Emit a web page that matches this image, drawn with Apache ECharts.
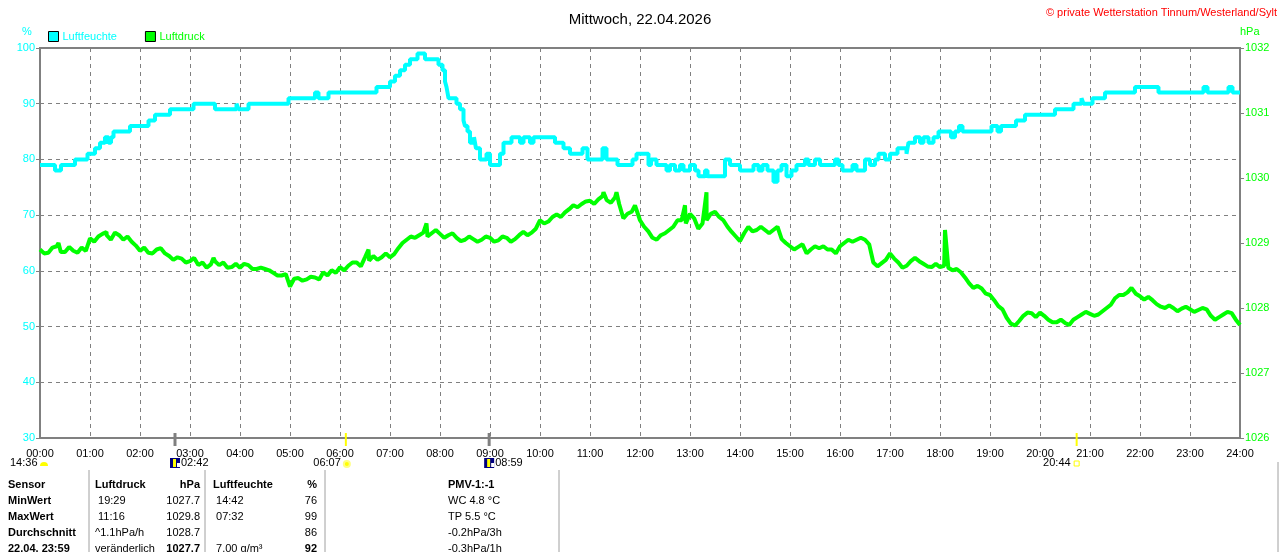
<!DOCTYPE html>
<html>
<head>
<meta charset="utf-8">
<script src="https://cdn.jsdelivr.net/npm/echarts@6/dist/echarts.min.js"></script>
<style>
html, body { margin: 0; padding: 0; background: #fff; }
#chart { width: 1280px; height: 552px; }
</style>
</head>
<body>
<div id="chart"></div>
<script>
var hourLabels = ['00:00', '01:00', '02:00', '03:00', '04:00', '05:00', '06:00', '07:00', '08:00',
    '09:00', '10:00', '11:00', '12:00', '13:00', '14:00', '15:00', '16:00', '17:00', '18:00',
    '19:00', '20:00', '21:00', '22:00', '23:00', '24:00'];

// Luftfeuchte: Zeitpunkt (Stunden) ab dem der Wert gilt
var humTime = [0.0, 0.3, 0.42, 0.7, 0.95, 1.1, 1.2, 1.3, 1.37, 1.42, 1.47, 1.8, 2.17, 2.3, 2.6, 3.07,
    3.5, 3.93, 3.97, 4.17, 4.97, 5.5, 5.57, 5.77, 6.73, 7.0, 7.1, 7.2, 7.3, 7.4, 7.55, 7.7, 7.97, 8.05,
    8.1, 8.13, 8.17, 8.33, 8.4, 8.47, 8.5, 8.55, 8.6, 8.68, 8.72, 8.8, 8.93, 9.0, 9.2, 9.27, 9.43, 9.6,
    9.67, 9.8, 9.87, 10.3, 10.47, 10.6, 10.85, 10.95, 11.25, 11.33, 11.55, 11.85, 11.93, 12.17, 12.22,
    12.33, 12.53, 12.6, 12.7, 12.8, 12.87, 13.0, 13.1, 13.17, 13.3, 13.35, 13.7, 13.8, 14.0, 14.27,
    14.37, 14.45, 14.55, 14.67, 14.75, 14.83, 14.93, 15.03, 15.13, 15.3, 15.37, 15.5, 15.6, 15.9,
    15.97, 16.05, 16.25, 16.33, 16.5, 16.6, 16.7, 16.77, 16.9, 17.0, 17.15, 17.33, 17.37, 17.5, 17.6,
    17.67, 17.77, 17.87, 17.97, 18.22, 18.3, 18.38, 18.45, 19.03, 19.15, 19.22, 19.52, 19.7, 20.3,
    20.67, 20.83, 20.87, 21.05, 21.3, 21.9, 22.37, 23.27, 23.35, 23.77, 23.85, 24.0];
var humValue = [79, 78, 79, 80, 81, 82, 83, 84, 83, 84, 85, 86, 87, 88, 89, 90,
    89, 90, 89, 90, 91, 92, 91, 92, 93, 94, 95, 96, 97, 98, 99, 98, 97, 96,
    94, 93, 91, 90, 89, 87, 86, 85, 83, 84, 82, 80, 81, 79, 81, 83, 84, 83,
    84, 83, 84, 83, 82, 81, 82, 80, 82, 80, 79, 80, 81, 79, 80,
    79, 78, 79, 78, 79, 78, 79, 78, 77, 78, 77, 80, 79, 78, 79,
    78, 79, 78, 76, 78, 79, 77, 78, 79, 80, 79, 80, 79, 80,
    79, 78, 79, 78, 80, 79, 80, 81, 80, 81, 82, 81, 83, 84, 83,
    84, 83, 84, 85, 84, 85, 86, 85, 86, 85, 86, 87, 88, 89,
    90, 91, 90, 91, 92, 93, 92, 93, 92, 93, 92, 92];

// Luftdruck zur vollen 10. Minute (00:00, 00:10 ... 24:00)
var pressValue = [
    1028.90, 1028.85, 1028.95, 1028.86, 1028.88, 1028.93,
    1029.07, 1029.10, 1029.12, 1029.16, 1029.05, 1029.02,
    1028.88, 1028.85, 1028.90, 1028.84, 1028.74, 1028.76,
    1028.72, 1028.66, 1028.62, 1028.72, 1028.70, 1028.63,
    1028.62, 1028.66, 1028.60, 1028.60, 1028.54, 1028.50,
    1028.33, 1028.46, 1028.44, 1028.47, 1028.55, 1028.58,
    1028.63, 1028.65, 1028.70, 1028.78, 1028.80, 1028.78,
    1028.78, 1028.92, 1029.05, 1029.08, 1029.16, 1029.15,
    1029.14, 1029.12, 1029.08, 1029.05, 1029.06, 1029.05,
    1029.08, 1029.04, 1029.08, 1029.06, 1029.17, 1029.16,
    1029.35, 1029.33, 1029.44, 1029.47, 1029.58, 1029.60,
    1029.65, 1029.67, 1029.66, 1029.70, 1029.38, 1029.48,
    1029.35, 1029.18, 1029.05, 1029.15, 1029.25, 1029.35,
    1029.45, 1029.22, 1029.35, 1029.48, 1029.35, 1029.17,
    1029.03, 1029.25, 1029.20, 1029.20, 1029.20, 1029.06,
    1028.95, 1028.94, 1028.84, 1028.95, 1028.95, 1028.90,
    1028.95, 1029.05, 1029.05, 1029.05, 1028.70, 1028.69,
    1028.84, 1028.70, 1028.65, 1028.77, 1028.68, 1028.63,
    1028.63, 1028.62, 1028.60, 1028.47, 1028.31, 1028.30,
    1028.20, 1028.03, 1027.85, 1027.73, 1027.88, 1027.92,
    1027.93, 1027.82, 1027.78, 1027.77, 1027.82, 1027.90,
    1027.91, 1027.90, 1028.00, 1028.15, 1028.20, 1028.28,
    1028.18, 1028.17, 1028.06, 1028.00, 1028.00, 1027.99,
    1027.98, 1027.97, 1027.98, 1027.82, 1027.90, 1027.92,
    1027.74];
// Luftdruck dazwischen (00:05, 00:15 ... 23:55), gibt das Rauschen wieder
var pressValueMid = [
    1028.84, 1028.93, 1028.86, 1028.94, 1028.85, 1028.88,
    1029.02, 1029.14, 1029.05, 1029.12, 1029.10, 1028.96,
    1028.93, 1028.84, 1028.92, 1028.80, 1028.78, 1028.70,
    1028.77, 1028.70, 1028.67, 1028.66, 1028.62, 1028.68,
    1028.68, 1028.60, 1028.62, 1028.58, 1028.50, 1028.52,
    1028.45, 1028.42, 1028.48, 1028.44, 1028.50, 1028.54,
    1028.58, 1028.70, 1028.64, 1028.73, 1028.74, 1028.84,
    1028.83, 1029.00, 1029.10, 1029.12, 1029.10, 1029.20,
    1029.08, 1029.15, 1029.03, 1029.10, 1029.02, 1029.10,
    1029.02, 1029.10, 1029.02, 1029.12, 1029.12, 1029.22,
    1029.30, 1029.40, 1029.40, 1029.52, 1029.55, 1029.64,
    1029.60, 1029.72, 1029.62, 1029.60, 1029.45, 1029.56,
    1029.25, 1029.08, 1029.12, 1029.20, 1029.35, 1029.30,
    1029.38, 1029.30, 1029.45, 1029.40, 1029.25, 1029.10,
    1029.15, 1029.18, 1029.25, 1029.15, 1029.25, 1029.00,
    1028.90, 1028.98, 1028.90, 1028.92, 1028.90, 1028.84,
    1029.00, 1029.02, 1029.08, 1028.98, 1028.64, 1028.74,
    1028.76, 1028.62, 1028.72, 1028.72, 1028.64, 1028.68,
    1028.65, 1028.58, 1028.55, 1028.38, 1028.34, 1028.22,
    1028.12, 1027.98, 1027.76, 1027.80, 1027.93, 1027.86,
    1027.88, 1027.78, 1027.82, 1027.74, 1027.86, 1027.94,
    1027.88, 1027.95, 1028.05, 1028.20, 1028.24, 1028.22,
    1028.13, 1028.12, 1028.02, 1028.04, 1027.95, 1028.02,
    1027.94, 1028.00, 1027.88, 1027.86, 1027.94, 1027.82];
var pressSpikeTime = [0.37, 1.33, 3.47, 6.57, 7.73, 11.27, 11.53, 11.9, 12.9, 13.33, 18.1, 21.83];
var pressSpikeValue = [1029.0, 1029.17, 1028.77, 1028.9, 1029.3, 1029.78, 1029.78, 1029.58, 1029.58, 1029.78, 1029.2, 1028.31];

// Mond/Sonne Ereignisse
var eventTime = [2.7, 6.117, 8.983, 20.733];
var eventLabel = ['02:42', '06:07', '08:59', '20:44'];

var tableRows = [
    ['Sensor', 'Luftdruck', 'hPa', 'Luftfeuchte', '%', 'PMV-1:-1'],
    ['MinWert', ' 19:29', '1027.7', ' 14:42', '76', 'WC 4.8 °C'],
    ['MaxWert', ' 11:16', '1029.8', ' 07:32', '99', 'TP 5.5 °C'],
    ['Durchschnitt', '^1.1hPa/h', '1028.7', '', '86', '-0.2hPa/3h'],
    ['22.04. 23:59', 'veränderlich', '1027.7', ' 7.00 g/m³', '92', '-0.3hPa/1h']
];

var humData = humTime.map(function (t, i) { return [t, humValue[i]]; });
var pressData = pressValue.map(function (v, i) { return [i / 6, v]; });
pressValueMid.forEach(function (v, i) { pressData.push([(i + 0.5) / 6, v]); });
pressSpikeTime.forEach(function (t, i) { pressData.push([t, pressSpikeValue[i]]); });
pressData.sort(function (a, b) { return a[0] - b[0]; });

var font = 'Liberation Sans, Arial, sans-serif';
var cyan = '#00ffff';
var green = '#00ff00';
var gray = '#808080';

var chart = echarts.init(document.getElementById('chart'));
var option = {
    backgroundColor: '#ffffff',
    animation: false,
    textStyle: { fontFamily: font },
    title: {
        text: 'Mittwoch, 22.04.2026',
        left: 'center',
        top: 7,
        textStyle: { fontSize: 15, fontWeight: 'normal', color: '#000', fontFamily: font }
    },
    legend: {
        left: 48,
        top: 31,
        padding: 0,
        itemWidth: 10,
        itemHeight: 10,
        itemGap: 28,
        icon: 'rect',
        itemStyle: { borderColor: '#000', borderWidth: 1 },
        textStyle: { fontSize: 11, fontFamily: font, padding: [0, 0, 0, -1] },
        data: [
            { name: 'Luftfeuchte', textStyle: { color: cyan } },
            { name: 'Luftdruck', textStyle: { color: green } }
        ]
    },
    grid: {
        left: 40,
        right: 40,
        top: 48,
        bottom: 114,
        show: true,
        borderColor: gray,
        borderWidth: 2
    },
    xAxis: {
        type: 'value',
        min: 0,
        max: 24,
        interval: 1,
        axisLine: { lineStyle: { color: gray, width: 2 } },
        axisTick: { show: false },
        axisLabel: {
            color: '#000',
            fontSize: 11,
            margin: 10,
            formatter: function (v) { return hourLabels[v]; }
        },
        splitLine: { lineStyle: { color: gray, type: [4, 4], width: 1 } }
    },
    yAxis: [{
        type: 'value',
        min: 30,
        max: 100,
        interval: 10,
        position: 'left',
        axisLine: { show: true, lineStyle: { color: gray, width: 2 } },
        axisTick: { show: true, length: 4, lineStyle: { color: gray } },
        axisLabel: { color: cyan, fontSize: 11, margin: 5 },
        splitLine: { lineStyle: { color: gray, type: [4, 4], width: 1 } }
    }, {
        type: 'value',
        min: 1026,
        max: 1032,
        interval: 1,
        position: 'right',
        axisLine: { show: true, lineStyle: { color: gray, width: 2 } },
        axisTick: { show: true, length: 4, lineStyle: { color: gray } },
        axisLabel: { color: green, fontSize: 11, margin: 5, formatter: function (v) { return String(v); } },
        splitLine: { show: false }
    }],
    series: [{
        name: 'Luftfeuchte',
        type: 'line',
        yAxisIndex: 0,
        step: 'end',
        showSymbol: false,
        color: cyan,
        lineStyle: { color: cyan, width: 4 },
        data: humData
    }, {
        name: 'Luftdruck',
        type: 'line',
        yAxisIndex: 1,
        showSymbol: false,
        color: green,
        lineStyle: { color: green, width: 4, join: 'bevel' },
        data: pressData
    }]
};
chart.setOption(option);

// Zusatztexte, Ereignismarken und Tabelle
var yBottom = chart.convertToPixel({ yAxisIndex: 0 }, 30);
var g = [];
function txt(x, y, s, opt) {
    opt = opt || {};
    g.push({
        type: 'text', x: x, y: y, silent: true, z: 100,
        style: {
            text: s, fill: opt.color || '#000', font: (opt.bold ? 'bold ' : '') + (opt.size || 11) + 'px ' + font,
            textAlign: opt.align || 'left', textVerticalAlign: 'middle'
        }
    });
}
txt(1277, 13, '© private Wetterstation Tinnum/Westerland/Sylt', { color: '#ff0000', align: 'right' });
txt(22, 32, '%', { color: cyan });
txt(1240, 32, 'hPa', { color: green });

// Mondaufgang/-untergang, Sonnenaufgang/-untergang
txt(10, 463, '14:36');
g.push({ type: 'sector', shape: { cx: 44, cy: 466, r: 4, startAngle: Math.PI, endAngle: Math.PI * 2 }, style: { fill: '#ffff00' }, z: 100 });
eventTime.forEach(function (t, i) {
    var x = chart.convertToPixel({ xAxisIndex: 0 }, t);
    var isSun = (i === 1 || i === 3);
    g.push({
        type: 'line', z: 100,
        shape: { x1: x, y1: yBottom - 5, x2: x, y2: yBottom + 8 },
        style: { stroke: isSun ? '#ffff00' : gray, lineWidth: isSun ? 2 : 3 }
    });
    if (i === 0 || i === 2) {
        g.push({ type: 'rect', z: 100, shape: { x: x - 5, y: 458, width: 10, height: 10 }, style: { fill: '#000080' } });
        g.push({ type: 'rect', z: 101, shape: { x: x - 2, y: 459, width: 3, height: 8 }, style: { fill: '#ffff00' } });
        g.push({ type: 'rect', z: 101, shape: { x: x + 2, y: 463, width: 3, height: 4 }, style: { fill: '#ffffff' } });
        txt(x + 6, 463, eventLabel[i]);
    } else if (i === 1) {
        g.push({ type: 'circle', z: 100, shape: { cx: x + 1, cy: 464, r: 3 }, style: { fill: '#ffff00', stroke: '#ffff80', lineWidth: 2 } });
        txt(x - 5, 463, eventLabel[i], { align: 'right' });
    } else {
        g.push({ type: 'rect', z: 100, shape: { x: x - 2.5, y: 461, width: 5, height: 5 }, style: { fill: 'none', stroke: '#ffff00', lineWidth: 1 } });
        txt(x - 6, 463, eventLabel[i], { align: 'right' });
    }
});

// Tabelle
var rowY = [485, 501, 517, 533, 549];
[89, 205, 325, 559].forEach(function (x) {
    g.push({ type: 'line', z: 100, shape: { x1: x, y1: 470, x2: x, y2: 552 }, style: { stroke: '#a0a0a0', lineWidth: 1 } });
});
g.push({ type: 'line', z: 100, shape: { x1: 1278, y1: 462, x2: 1278, y2: 552 }, style: { stroke: '#a0a0a0', lineWidth: 1 } });
tableRows.forEach(function (r, i) {
    var y = rowY[i];
    var head = i === 0;
    var last = i === 4;
    txt(8, y, r[0], { bold: true });
    txt(95, y, r[1], { bold: head });
    txt(200, y, r[2], { bold: head || last, align: 'right' });
    txt(213, y, r[3], { bold: head });
    txt(317, y, r[4], { bold: head || last, align: 'right' });
    txt(448, y, r[5], { bold: head });
});

chart.setOption({ graphic: g });

window.onresize = function () {
    chart.resize();
};
</script>
</body>
</html>
